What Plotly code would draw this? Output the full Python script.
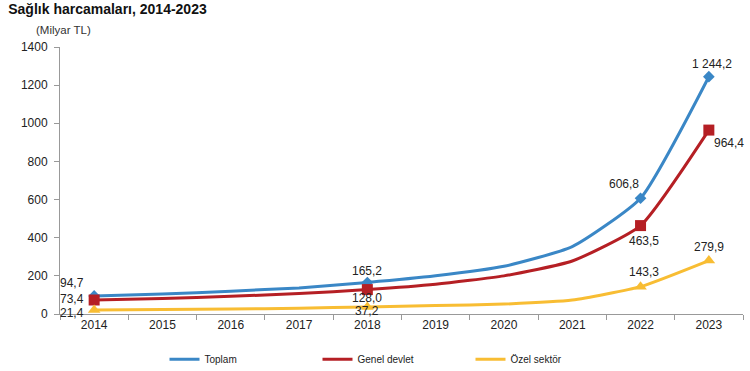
import plotly.graph_objects as go

years = ["2014", "2015", "2016", "2017", "2018", "2019", "2020", "2021", "2022", "2023"]
toplam = [94.7, 104.6, 119.7, 136.9, 165.2, 200.0, 250.0, 353.0, 606.8, 1244.2]
genel = [73.4, 81.0, 93.0, 107.0, 128.0, 156.0, 200.0, 278.0, 463.5, 964.4]
ozel = [21.4, 23.5, 26.5, 30.0, 37.2, 44.0, 52.0, 73.0, 143.3, 279.9]
marker_years = ["2014", "2018", "2022", "2023"]
series_names = ["Toplam", "Genel devlet", "Özel sektör"]
y_ticks = [0, 200, 400, 600, 800, 1000, 1200, 1400]

colors = ["#3A87C6", "#B51F24", "#F8BD33"]
symbols = ["diamond", "square", "triangle-up"]
msizes = [9, 11, 11]

def fmt(v):
    s = f"{v:,.1f}".replace(",", " ").replace(".", ",")
    return s

# label offsets (px) per series per marker year
offsets = [
    [(-22, 13), (0, 11), (-17, 14), (3, 13)],
    [(-22, 1), (0, -8), (3, -15), (20, -13)],
    [(-22, -3), (0, -4), (3, 15), (0, 14)],
]

fig = go.Figure()
all_series = [toplam, genel, ozel]
for i, (name, vals) in enumerate(zip(series_names, all_series)):
    fig.add_trace(go.Scatter(
        x=years, y=vals, name=name, mode="lines",
        line=dict(color=colors[i], width=3, shape="spline", smoothing=0.5),
        hoverinfo="skip",
    ))
for i, vals in enumerate(all_series):
    my = [vals[years.index(y)] for y in marker_years]
    fig.add_trace(go.Scatter(
        x=marker_years, y=my, mode="markers", showlegend=False,
        marker=dict(symbol=symbols[i], size=msizes[i], color=colors[i]),
    ))
    for j, (yr, v) in enumerate(zip(marker_years, my)):
        dx, dy = offsets[i][j]
        fig.add_annotation(x=years.index(yr), y=v, text=fmt(v), showarrow=False,
                           xshift=dx, yshift=dy,
                           font=dict(family="Liberation Sans, Arial", size=12, color="#222"))

fig.add_annotation(xref="paper", yref="paper", x=-0.038, y=1.035, xanchor="left",
                   yanchor="bottom",
                   text="(Milyar TL)", showarrow=False,
                   font=dict(family="Liberation Sans, Arial", size=11.5, color="#333"))

fig.update_layout(
    width=750, height=371,
    margin=dict(l=60, r=7, t=47, b=57, autoexpand=False),
    paper_bgcolor="white", plot_bgcolor="white",
    title=dict(text="<b>Sağlık harcamaları, 2014-2023</b>", x=0.011, xanchor="left",
               y=0.988, yanchor="top",
               font=dict(family="Liberation Sans, Arial", size=14, color="#111")),
    font=dict(family="Liberation Sans, Arial", size=12, color="#222"),
    showlegend=True,
    legend=dict(orientation="h", x=0.153, y=-0.115, xanchor="left", yanchor="top",
                entrywidth=108, entrywidthmode="pixels", itemwidth=30,
                font=dict(size=10, color="#222")),
    xaxis=dict(type="category", range=[-0.5, 9.5], showgrid=False,
               showline=True, linecolor="#999", linewidth=1,
               ticks="outside", tickson="boundaries", ticklen=5, tickcolor="#999",
               tickfont=dict(size=12)),
    yaxis=dict(range=[0, 1400], tickvals=y_ticks, showgrid=False, zeroline=False,
               showline=True, linecolor="#999", linewidth=1,
               ticks="outside", ticklen=5, tickcolor="#999", ticklabelstandoff=4,
               tickfont=dict(size=12)),
)

fig.write_html("out.html", config={"displayModeBar": False},
               post_script="document.body.style.margin='0';")
